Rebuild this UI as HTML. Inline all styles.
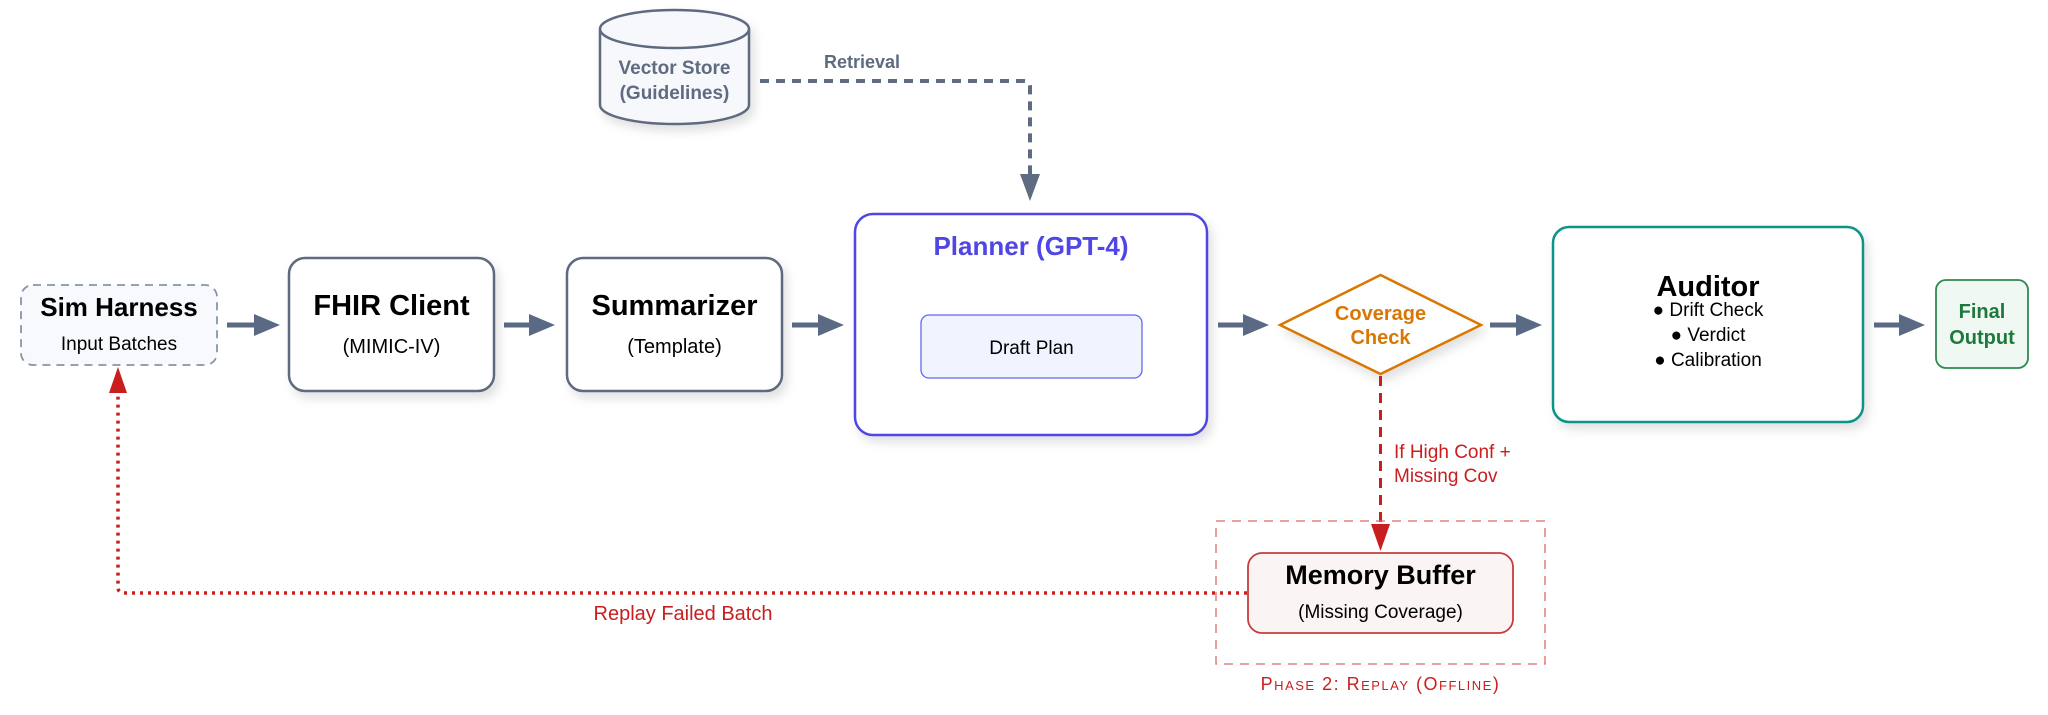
<!DOCTYPE html>
<html><head><meta charset="utf-8"><style>
html,body{margin:0;padding:0;background:#fff;}
svg{display:block;font-family:"Liberation Sans",Arial,sans-serif;}
</style></head><body>
<svg width="2048" height="715" viewBox="0 0 2048 715" xmlns="http://www.w3.org/2000/svg">
<defs>
<filter id="sh" x="-10%" y="-10%" width="130%" height="140%"><feDropShadow dx="4" dy="6" stdDeviation="5" flood-color="#000" flood-opacity="0.12"/></filter>
</defs>

<!-- Vector store cylinder -->
<g filter="url(#sh)">
<path d="M600,29 L600,105 A74.5,19 0 0 0 749,105 L749,29" fill="#f7f8fb" stroke="#5f6b80" stroke-width="2.5"/>
<ellipse cx="674.5" cy="29" rx="74.5" ry="19" fill="#f7f8fb" stroke="#5f6b80" stroke-width="2.5"/>
</g>
<text x="674.5" y="74" text-anchor="middle" font-size="19" font-weight="bold" fill="#5f6b80">Vector Store</text>
<text x="674.5" y="99" text-anchor="middle" font-size="19" font-weight="bold" fill="#5f6b80">(Guidelines)</text>

<!-- Retrieval connector -->
<path d="M760,81 L1024,81 Q1030,81 1030,87 L1030,176" fill="none" stroke="#5f6b80" stroke-width="4" stroke-dasharray="9 7"/>
<polygon points="1020,174 1040,174 1030,201" fill="#5f6b80"/>
<text x="862" y="68" text-anchor="middle" font-size="18" font-weight="bold" fill="#5f6b80">Retrieval</text>

<!-- Sim Harness -->
<rect x="21" y="285" width="196" height="80" rx="12" fill="#f7f9fc" stroke="#8794aa" stroke-width="1.8" stroke-dasharray="8 6"/>
<text x="119" y="316" text-anchor="middle" font-size="26" font-weight="bold" fill="#000">Sim Harness</text>
<text x="119" y="350" text-anchor="middle" font-size="19" fill="#000">Input  Batches</text>

<!-- arrows -->
<g fill="#5a6a85" stroke="#5a6a85">
<line x1="227" y1="325" x2="260" y2="325" stroke-width="5"/><polygon points="254,314 280,325 254,336" stroke="none"/>
<line x1="504" y1="325" x2="535" y2="325" stroke-width="5"/><polygon points="529,314 555,325 529,336" stroke="none"/>
<line x1="792" y1="325" x2="824" y2="325" stroke-width="5"/><polygon points="818,314 844,325 818,336" stroke="none"/>
<line x1="1218" y1="325" x2="1249" y2="325" stroke-width="5"/><polygon points="1243,314 1269,325 1243,336" stroke="none"/>
<line x1="1490" y1="325" x2="1522" y2="325" stroke-width="5"/><polygon points="1516,314 1542,325 1516,336" stroke="none"/>
<line x1="1874" y1="325" x2="1905" y2="325" stroke-width="5"/><polygon points="1899,314 1925,325 1899,336" stroke="none"/>
</g>

<!-- FHIR Client -->
<rect x="289" y="258" width="205" height="133" rx="16" fill="#fff" stroke="#5f6b80" stroke-width="2.5" filter="url(#sh)"/>
<text x="391.5" y="315" text-anchor="middle" font-size="29" font-weight="bold" fill="#000">FHIR Client</text>
<text x="391.5" y="353" text-anchor="middle" font-size="20" fill="#000">(MIMIC-IV)</text>

<!-- Summarizer -->
<rect x="567" y="258" width="215" height="133" rx="16" fill="#fff" stroke="#5f6b80" stroke-width="2.5" filter="url(#sh)"/>
<text x="674.5" y="315" text-anchor="middle" font-size="29" font-weight="bold" fill="#000">Summarizer</text>
<text x="674.5" y="353" text-anchor="middle" font-size="20" fill="#000">(Template)</text>

<!-- Planner -->
<rect x="855" y="214" width="352" height="221" rx="18" fill="#fff" stroke="#4f46e5" stroke-width="2.5" filter="url(#sh)"/>
<text x="1031" y="255" text-anchor="middle" font-size="26" font-weight="bold" fill="#4f46e5">Planner (GPT-4)</text>
<rect x="921" y="315" width="221" height="63" rx="8" fill="#eff4ff" stroke="#6366f1" stroke-width="1.3"/>
<text x="1031.5" y="354" text-anchor="middle" font-size="19" fill="#000">Draft Plan</text>

<!-- Coverage diamond -->
<polygon points="1380.5,275 1481,325 1380.5,374 1280,325" fill="#fff" stroke="#d97706" stroke-width="2.5" filter="url(#sh)"/>
<text x="1380.5" y="320" text-anchor="middle" font-size="20" font-weight="bold" fill="#d97706">Coverage</text>
<text x="1380.5" y="344" text-anchor="middle" font-size="20" font-weight="bold" fill="#d97706">Check</text>

<!-- Auditor -->
<rect x="1553" y="227" width="310" height="195" rx="16" fill="#fff" stroke="#0f9488" stroke-width="2.5" filter="url(#sh)"/>
<text x="1708" y="296" text-anchor="middle" font-size="29" font-weight="bold" fill="#000">Auditor</text>
<text x="1708" y="316" text-anchor="middle" font-size="19" fill="#000">● Drift Check</text>
<text x="1708" y="341" text-anchor="middle" font-size="19" fill="#000">● Verdict</text>
<text x="1708" y="366" text-anchor="middle" font-size="19" fill="#000">● Calibration</text>

<!-- Final Output -->
<rect x="1936" y="280" width="92" height="88" rx="10" fill="#eff8f2" stroke="#2f8a4f" stroke-width="1.8"/>
<text x="1982" y="318" text-anchor="middle" font-size="20" font-weight="bold" fill="#1e7a3c">Final</text>
<text x="1982" y="344" text-anchor="middle" font-size="20" font-weight="bold" fill="#1e7a3c">Output</text>

<!-- Red dashed down -->
<line x1="1380.5" y1="376" x2="1380.5" y2="526" stroke="#c81e1e" stroke-width="3" stroke-dasharray="10 7"/>
<polygon points="1371,524 1390,524 1380.5,551" fill="#c81e1e"/>
<text x="1394" y="458" font-size="19" fill="#c81e1e">If High Conf +</text>
<text x="1394" y="482" font-size="19" fill="#c81e1e">Missing Cov</text>

<!-- Phase box -->
<rect x="1216" y="521" width="329" height="143" fill="none" stroke="#e06666" stroke-width="1.3" stroke-dasharray="9 7"/>
<text x="1380.5" y="690" text-anchor="middle" font-size="18" fill="#c81e1e" letter-spacing="1.5" style="font-variant:small-caps">Phase 2: Replay (Offline)</text>

<!-- Memory Buffer -->
<rect x="1248" y="553" width="265" height="80" rx="14" fill="#fbf4f4" stroke="#c83c3c" stroke-width="1.8"/>
<text x="1380.5" y="584" text-anchor="middle" font-size="27" font-weight="bold" fill="#000">Memory Buffer</text>
<text x="1380.5" y="618" text-anchor="middle" font-size="19" fill="#000">(Missing Coverage)</text>

<!-- Red dotted replay -->
<path d="M1247,593 L124,593 Q118,593 118,587 L118,392" fill="none" stroke="#c81e1e" stroke-width="3.5" stroke-dasharray="3 5"/>
<polygon points="109,393 127,393 118,367" fill="#c81e1e"/>
<text x="683" y="620" text-anchor="middle" font-size="20" fill="#c81e1e">Replay Failed Batch</text>
</svg>
</body></html>
